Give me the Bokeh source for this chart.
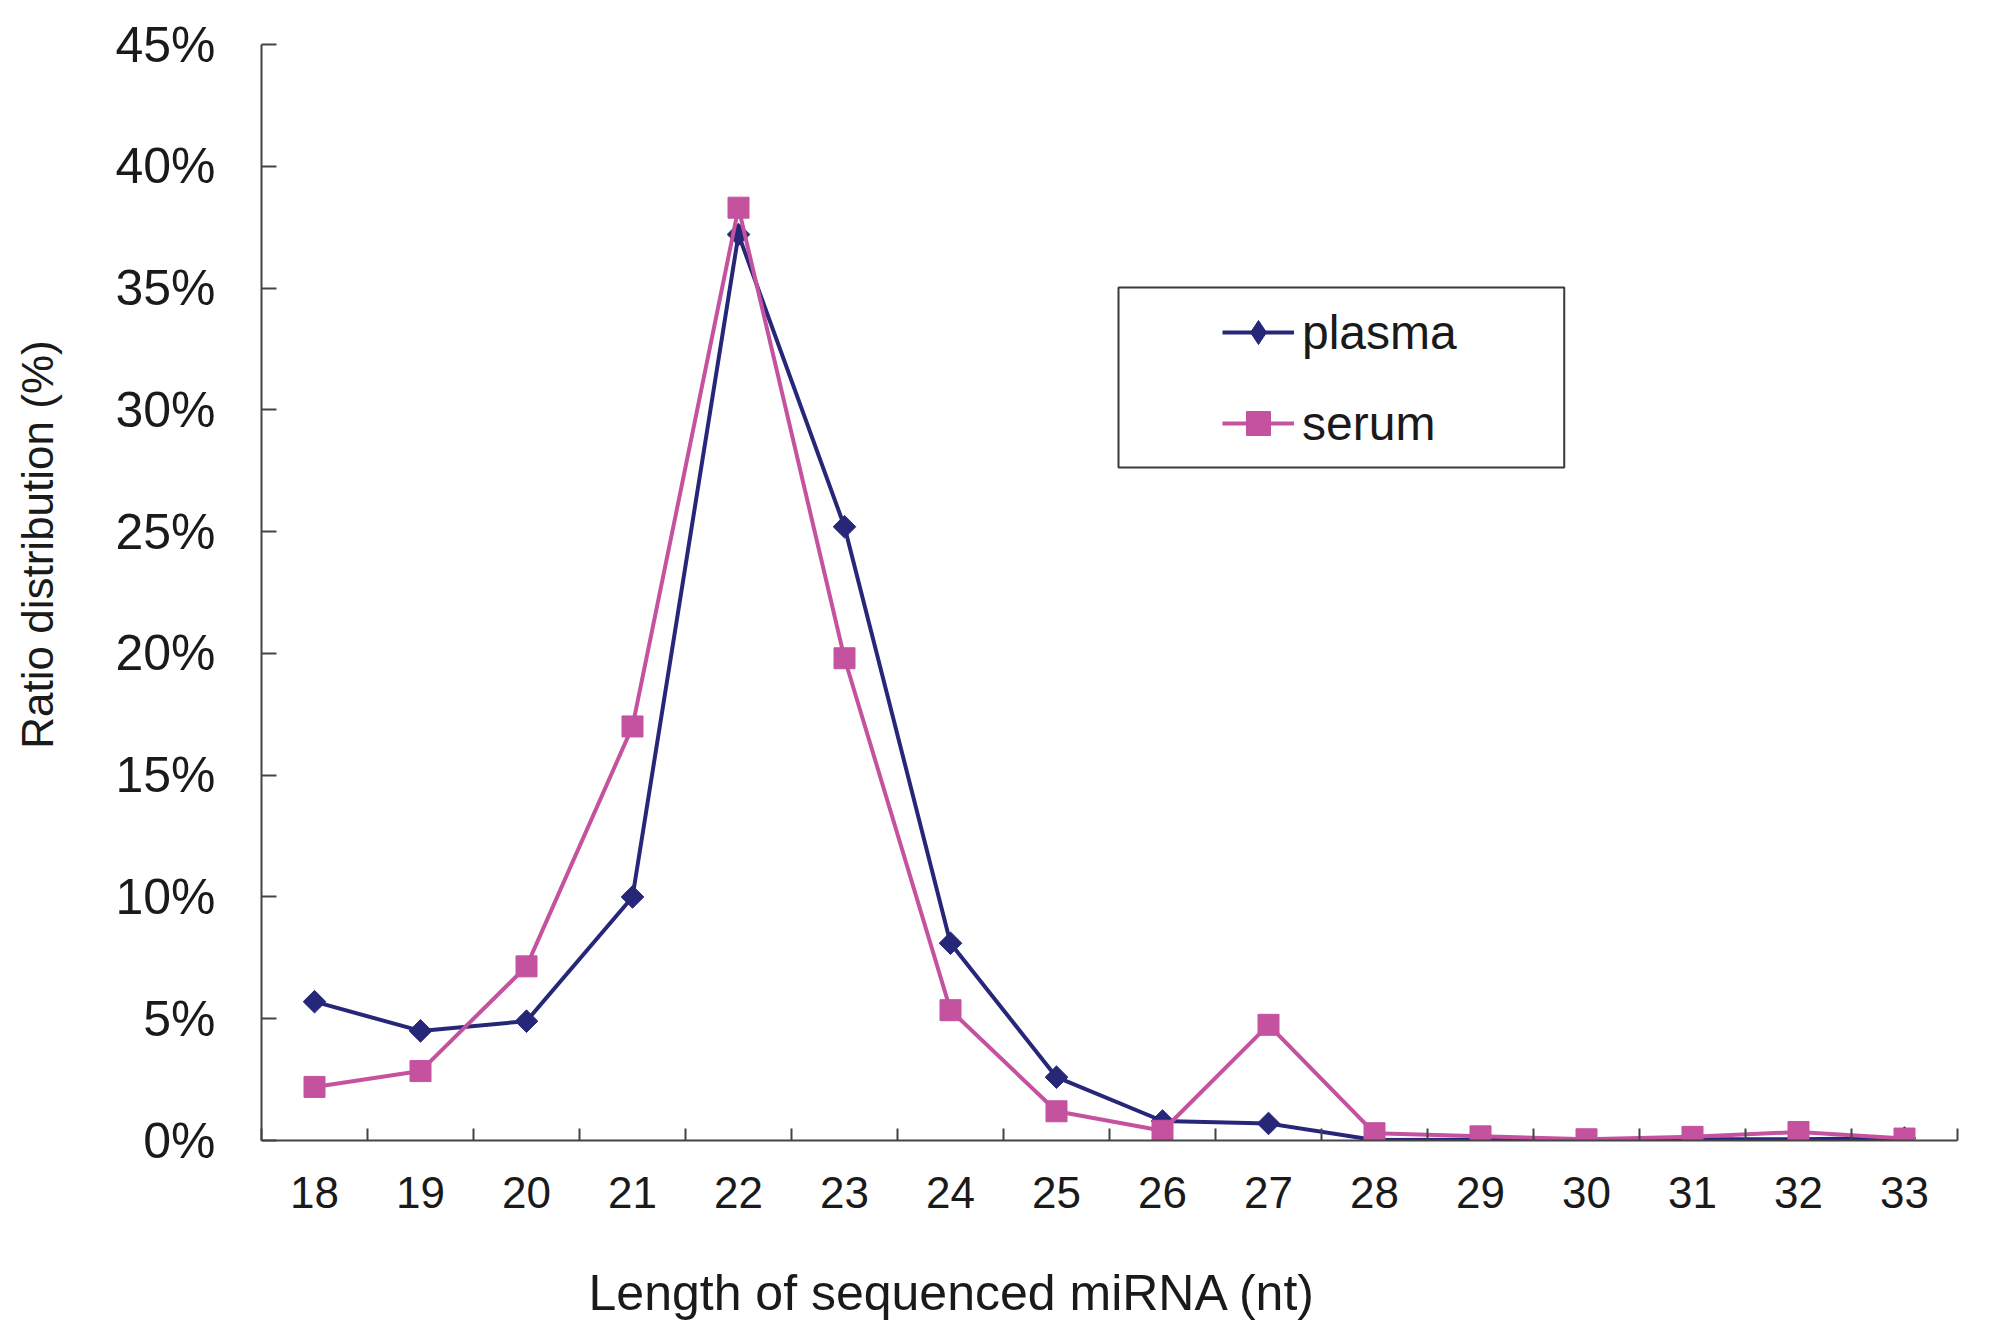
import math
from bokeh.plotting import figure
from bokeh.models import (Range1d, FixedTicker, PrintfTickFormatter, Legend, LegendItem,
                          BoxAnnotation, LinearAxis, ColumnDataSource)
from bokeh.embed import file_html
from bokeh.resources import INLINE

# ---- data ----
lengths = [18, 19, 20, 21, 22, 23, 24, 25, 26, 27, 28, 29, 30, 31, 32, 33]
plasma = [5.7, 4.5, 4.9, 10.0, 37.2, 25.2, 8.1, 2.6, 0.8, 0.7, 0.02, 0.03, 0.0, 0.05, 0.05, 0.1]
serum = [2.2, 2.85, 7.15, 17.0, 38.3, 19.8, 5.35, 1.2, 0.4, 4.75, 0.3, 0.17, 0.05, 0.15, 0.35, 0.08]
y_ticks = [0, 5, 10, 15, 20, 25, 30, 35, 40, 45]
series_names = ["plasma", "serum"]
x_title = "Length of sequenced miRNA (nt)"
y_title = "Ratio distribution (%)"

FONT = "Liberation Sans"
PLASMA_C = "#27277a"
SERUM_C = "#c4529f"
AXIS_C = "#444444"
TEXT_C = "#1a1a1a"

p = figure(width=2000, height=1330, output_backend="svg", toolbar_location=None,
           x_range=Range1d(17.5, 33.5), y_range=Range1d(0, 45),
           min_border_left=261, min_border_right=43, min_border_top=44, min_border_bottom=190)
p.outline_line_color = None
p.grid.visible = False
p.background_fill_color = "white"
p.border_fill_color = "white"

src = ColumnDataSource(dict(x=lengths, plasma=plasma, serum=serum))

pl_line = p.line("x", "plasma", source=src, line_color=PLASMA_C, line_width=4)
p.scatter("x", "plasma", source=src, marker="square", angle=math.pi / 4, size=16,
          fill_color=PLASMA_C, line_color=PLASMA_C)
se_line = p.line("x", "serum", source=src, line_color=SERUM_C, line_width=4)
p.scatter("x", "serum", source=src, marker="square", size=21,
          fill_color=SERUM_C, line_color=SERUM_C)

# small legend markers (no data points in the plot)
nan_src = ColumnDataSource(dict(x=[float("nan")], y=[float("nan")]))
pl_leg = p.scatter("x", "y", source=nan_src, marker="diamond", size=17,
                   fill_color=PLASMA_C, line_color=PLASMA_C)
se_leg = p.scatter("x", "y", source=nan_src, marker="square", size=12,
                   fill_color=SERUM_C, line_color=SERUM_C)

# axes
xa = p.xaxis[0]
xa.ticker = FixedTicker(ticks=lengths, minor_ticks=[v - 0.5 for v in lengths] + [lengths[-1] + 0.5])
xa.axis_line_color = AXIS_C
xa.axis_line_width = 2
xa.major_tick_in = 0
xa.major_tick_out = 0
xa.minor_tick_in = 12
xa.minor_tick_out = 0
xa.minor_tick_line_color = AXIS_C
xa.minor_tick_line_width = 2
xa.major_label_text_font = FONT
xa.major_label_text_font_size = "44px"
xa.major_label_text_color = TEXT_C
xa.major_label_standoff = 36

ya = p.yaxis[0]
ya.ticker = FixedTicker(ticks=y_ticks, minor_ticks=[])
ya.formatter = PrintfTickFormatter(format="%d%%")
ya.axis_line_color = AXIS_C
ya.axis_line_width = 2
ya.major_tick_in = 15
ya.major_tick_out = 0
ya.major_tick_line_color = AXIS_C
ya.major_tick_line_width = 2
ya.minor_tick_line_color = None
ya.major_label_text_font = FONT
ya.major_label_text_font_size = "50px"
ya.major_label_text_color = TEXT_C
ya.major_label_standoff = 46


def title_axis(label, where, size, standoff, orientation):
    return LinearAxis(ticker=FixedTicker(ticks=[where], minor_ticks=[]),
                      major_label_overrides={where: label},
                      major_label_orientation=orientation,
                      major_label_standoff=standoff,
                      major_label_text_font=FONT, major_label_text_font_size=size,
                      major_label_text_color=TEXT_C,
                      axis_line_color=None, major_tick_line_color=None,
                      minor_tick_line_color=None,
                      major_tick_in=0, major_tick_out=0, minor_tick_in=0, minor_tick_out=0)


# axis titles: label-only axes so the titles sit off-centre as in the reference
p.add_layout(title_axis(x_title, 24.02, "50px", 54, "horizontal"), "below")
p.add_layout(title_axis(y_title, 24.47, "44px", 50, "vertical"), "left")

# legend frame
p.add_layout(BoxAnnotation(left=25.585, right=29.79, bottom=27.63, top=35.02,
                           fill_color="white", fill_alpha=1.0,
                           line_color="#3a3a3a", line_alpha=1.0, line_width=2,
                           level="annotation"))

legend = Legend(items=[LegendItem(label=series_names[0], renderers=[pl_line, pl_leg]),
                       LegendItem(label=series_names[1], renderers=[se_line, se_leg])],
                location=(951, 677), orientation="vertical",
                glyph_width=72, glyph_height=60, label_height=60, label_standoff=8,
                spacing=31, padding=10, margin=0,
                label_text_font=FONT, label_text_font_size="48px", label_text_color=TEXT_C,
                border_line_alpha=0, background_fill_alpha=0)
p.add_layout(legend)

open("out.html", "w").write(file_html(p, INLINE))
